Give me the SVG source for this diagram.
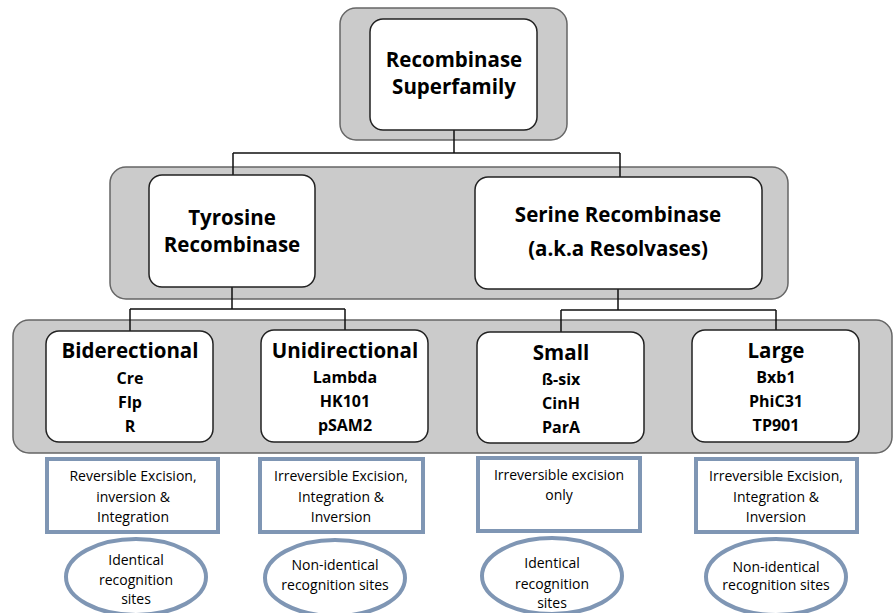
<svg xmlns="http://www.w3.org/2000/svg" width="894" height="613" viewBox="0 0 894 613">
<style>
.band{fill:#cbcbcb;stroke:#666;stroke-width:1.5}
.node{fill:#fff;stroke:#222;stroke-width:1.5}
.blue{fill:#fff;stroke:#7f96b4;stroke-width:4}
.h{font-family:"Open Sans","Liberation Sans",sans-serif;font-weight:bold;font-size:20.5px;fill:#000;text-anchor:middle}
.s{font-family:"Open Sans","Liberation Sans",sans-serif;font-weight:bold;font-size:16px;fill:#000;text-anchor:middle}
.n{font-family:"Open Sans","Liberation Sans",sans-serif;font-size:14px;fill:#000;text-anchor:middle}
.c{fill:none;stroke:#111;stroke-width:1.5}
</style>
<rect width="894" height="613" fill="#fff"/>
<g id="bands">
<rect class="band" x="340" y="8" width="227" height="132" rx="16"/>
<rect class="band" x="110" y="167" width="678" height="132" rx="16"/>
<rect class="band" x="13" y="320" width="879" height="133" rx="16"/>
</g>
<g id="connectors">
<path class="c" d="M454 130V153M233 153H620M233 153V175M620 153V177"/>
<path class="c" d="M232 287V309M130 309H345M130 309V331M345 309V330"/>
<path class="c" d="M618 289V310M561 310H776M561 310V332M776 310V330"/>
</g>
<g id="superfamily">
<rect class="node" x="370" y="19" width="167" height="111" rx="13"/>
<text class="h" x="454" y="67">Recombinase</text>
<text class="h" x="454" y="94">Superfamily</text>
</g>
<g id="tyrosine">
<rect class="node" x="149" y="175" width="166" height="112" rx="13"/>
<text class="h" x="232" y="225">Tyrosine</text>
<text class="h" x="232" y="252">Recombinase</text>
</g>
<g id="serine">
<rect class="node" x="475" y="177" width="287" height="112" rx="13"/>
<text class="h" x="618" y="222">Serine Recombinase</text>
<text class="h" x="618" y="256">(a.k.a Resolvases)</text>
</g>
<g id="biderectional">
<rect class="node" x="46" y="331" width="167" height="111" rx="13"/>
<text class="h" x="130" y="358">Biderectional</text>
<text class="s" x="130" y="384">Cre</text>
<text class="s" x="130" y="408">Flp</text>
<text class="s" x="130" y="432">R</text>
</g>
<g id="unidirectional">
<rect class="node" x="261" y="330" width="167" height="112" rx="13"/>
<text class="h" x="345" y="358">Unidirectional</text>
<text class="s" x="345" y="383">Lambda</text>
<text class="s" x="345" y="407">HK101</text>
<text class="s" x="345" y="431">pSAM2</text>
</g>
<g id="small">
<rect class="node" x="477" y="332" width="167" height="111" rx="13"/>
<text class="h" x="561" y="360">Small</text>
<text class="s" x="561" y="385">ß-six</text>
<text class="s" x="561" y="409">CinH</text>
<text class="s" x="561" y="433">ParA</text>
</g>
<g id="large">
<rect class="node" x="692" y="330" width="167" height="112" rx="13"/>
<text class="h" x="776" y="358">Large</text>
<text class="s" x="776" y="383">Bxb1</text>
<text class="s" x="776" y="407">PhiC31</text>
<text class="s" x="776" y="431">TP901</text>
</g>
<g id="desc1">
<rect class="blue" x="47" y="459" width="171" height="73"/>
<text class="n" x="133" y="481">Reversible Excision,</text>
<text class="n" x="133" y="502">inversion &amp;</text>
<text class="n" x="133" y="522">Integration</text>
</g>
<g id="desc2">
<rect class="blue" x="260" y="459" width="163" height="73"/>
<text class="n" x="341" y="481">Irreversible Excision,</text>
<text class="n" x="341" y="502">Integration &amp;</text>
<text class="n" x="341" y="522">Inversion</text>
</g>
<g id="desc3">
<rect class="blue" x="478" y="458" width="162" height="73"/>
<text class="n" x="559" y="480">Irreversible excision</text>
<text class="n" x="559" y="500">only</text>
</g>
<g id="desc4">
<rect class="blue" x="696" y="459" width="161" height="73"/>
<text class="n" x="776" y="481">Irreversible Excision,</text>
<text class="n" x="776" y="502">Integration &amp;</text>
<text class="n" x="776" y="522">Inversion</text>
</g>
<g id="sites1">
<ellipse class="blue" cx="136" cy="577" rx="70" ry="38"/>
<text class="n" x="136" y="565">Identical</text>
<text class="n" x="136" y="585">recognition</text>
<text class="n" x="136" y="604">sites</text>
</g>
<g id="sites2">
<ellipse class="blue" cx="335" cy="578" rx="70" ry="38"/>
<text class="n" x="335" y="570">Non-identical</text>
<text class="n" x="335" y="590">recognition sites</text>
</g>
<g id="sites3">
<ellipse class="blue" cx="552" cy="576" rx="70" ry="38"/>
<text class="n" x="552" y="568">Identical</text>
<text class="n" x="552" y="589">recognition</text>
<text class="n" x="552" y="608">sites</text>
</g>
<g id="sites4">
<ellipse class="blue" cx="776" cy="577" rx="70" ry="38"/>
<text class="n" x="776" y="572">Non-identical</text>
<text class="n" x="776" y="590">recognition sites</text>
</g>
</svg>
